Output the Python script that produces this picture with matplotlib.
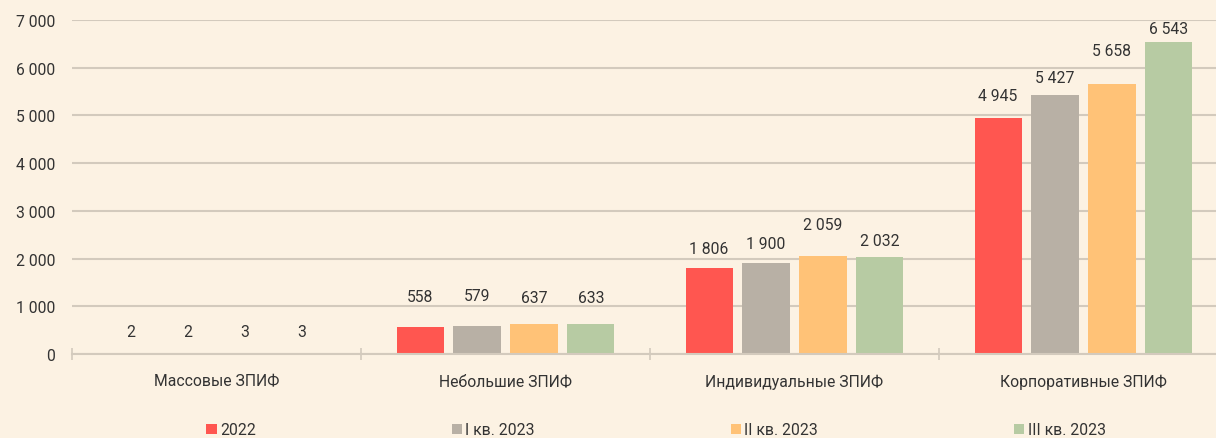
import numpy as np
import matplotlib
matplotlib.use("Agg")
import matplotlib.pyplot as plt
from matplotlib.patches import Patch

# Data
categories = ["Массовые ЗПИФ", "Небольшие ЗПИФ", "Индивидуальные ЗПИФ", "Корпоративные ЗПИФ"]
series_names = ["2022", "I кв. 2023", "II кв. 2023", "III кв. 2023"]
v_2022 = [2, 558, 1806, 4945]
v_q1 = [2, 579, 1900, 5427]
v_q2 = [3, 637, 2059, 5658]
v_q3 = [3, 633, 2032, 6543]
y_ticks = [0, 1000, 2000, 3000, 4000, 5000, 6000, 7000]

# label offsets above bar top (pixels), as placed in the original
label_offsets = [
    [22, 31, 19, 23],
    [22, 31, 20, 18],
    [22, 26, 31, 34],
    [22, 26, 17, 13],
]

colors = ["#FF5650", "#B8B0A5", "#FFC277", "#B7CBA3"]
bg = "#FCF2E3"
grid_col = "#D3CABD"
text_col = "#333333"
fs = 11.3

plt.rcParams["font.family"] = ["Roboto", "DejaVu Sans"]
plt.rcParams["font.size"] = fs

def fmt(v):
    return f"{v:,}".replace(",", " ")

fig = plt.figure(figsize=(12.16, 4.39), dpi=100, facecolor=bg)
ax = fig.add_axes([72 / 1216, (439 - 355) / 439, 1156 / 1216, (355 - 21) / 439])
ax.set_facecolor(bg)

x = np.arange(len(categories))
width = 0.163
step = 0.197
all_series = [v_2022, v_q1, v_q2, v_q3]
for i, vals in enumerate(all_series):
    xs = x + (i - 1.5) * step
    ax.bar(xs, vals, width, color=colors[i], zorder=3, label=series_names[i])
    for j, v in enumerate(vals):
        ax.annotate(fmt(v), (xs[j], v), xytext=(0, label_offsets[i][j]),
                    textcoords="offset pixels", ha="center", va="center",
                    color=text_col, fontsize=fs)

ax.set_xlim(-0.5, len(categories) - 0.5)
ax.set_ylim(0, 7000)
ax.set_yticks(y_ticks)
ax.set_yticklabels([fmt(t) for t in y_ticks])
ax.yaxis.grid(True, color=grid_col, linewidth=1.5, zorder=0)
ax.tick_params(axis="y", length=0, pad=12, colors=text_col)

ax.set_xticks(np.arange(len(categories) + 1) - 0.5)
ax.set_xticklabels([])
ax.set_xticks(x, minor=True)
ax.set_xticklabels(categories, minor=True)
ax.tick_params(axis="x", which="major", direction="inout", length=8, width=1.2, color=grid_col)
ax.tick_params(axis="x", which="minor", length=0, pad=14, colors=text_col)

for s in ["top", "right", "left"]:
    ax.spines[s].set_visible(False)
ax.spines["bottom"].set_color(grid_col)
ax.spines["bottom"].set_linewidth(1.5)
ax.spines["bottom"].set_zorder(4)

handles = [Patch(facecolor=c, edgecolor="none") for c in colors]
fig.legend(handles, series_names, loc="center", bbox_to_anchor=(656 / 1216, 1 - 431 / 439),
           ncol=4, frameon=False, handlelength=0.65, handleheight=0.65,
           handletextpad=0.2, columnspacing=12.5, labelcolor=text_col, fontsize=fs)

fig.savefig("out.png", dpi=100, facecolor=bg)
